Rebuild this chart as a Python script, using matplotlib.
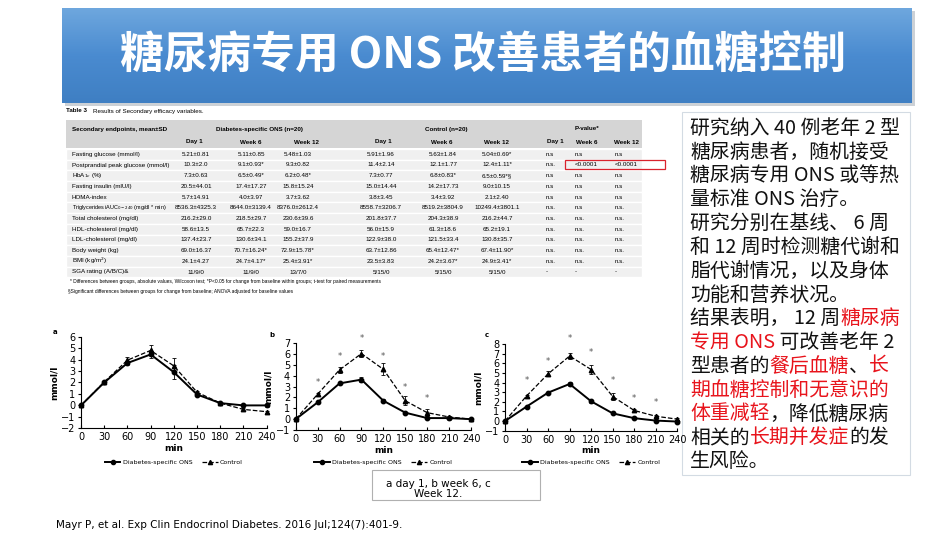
import matplotlib
matplotlib.use("Agg")
import matplotlib.pyplot as plt
from matplotlib.patches import Rectangle
from matplotlib.lines import Line2D
from matplotlib.colors import LinearSegmentedColormap
import numpy as np

CJK = ['Noto Sans CJK SC', 'DejaVu Sans']
NARROW = ['Liberation Sans', 'DejaVu Sans']
RED = '#e8141c'
K = '#111111'

# ---- data ----
title = "糖尿病专用 ONS 改善患者的血糖控制"

minutes = [0, 30, 60, 90, 120, 150, 180, 210, 240]

a_ons = [0, 2.0, 3.7, 4.45, 2.9, 0.95, 0.2, 0.0, 0.0]
a_ons_err = [0, 0.1, 0.2, 0.3, 0.6, 0.15, 0.1, 0.15, 0.15]
a_ctl = [0, 2.05, 3.95, 4.8, 3.45, 1.15, 0.2, -0.35, -0.55]
a_ctl_err = [0, 0.1, 0.25, 0.45, 0.65, 0.15, 0.1, 0.1, 0.1]

b_ons = [0, 1.55, 3.3, 3.65, 1.7, 0.6, 0.1, 0.1, 0.0]
b_ons_err = [0, 0.1, 0.1, 0.25, 0.15, 0.1, 0.1, 0.1, 0.1]
b_ctl = [0, 2.3, 4.55, 6.05, 4.6, 1.7, 0.6, 0.2, 0.0]
b_ctl_err = [0, 0.15, 0.3, 0.3, 0.55, 0.4, 0.35, 0.1, 0.1]
b_star_x = [30, 60, 90, 120, 150, 180]
b_star_y = [3.35, 5.8, 7.45, 5.8, 2.9, 1.9]

c_ons = [0, 1.5, 2.95, 3.85, 2.05, 0.8, 0.3, 0.05, -0.05]
c_ons_err = [0, 0.1, 0.1, 0.25, 0.15, 0.1, 0.1, 0.1, 0.1]
c_ctl = [0, 2.6, 4.9, 6.75, 5.35, 2.55, 1.1, 0.5, 0.2]
c_ctl_err = [0, 0.15, 0.25, 0.35, 0.45, 0.35, 0.2, 0.1, 0.1]
c_star_x = [30, 60, 90, 120, 150, 180, 210]
c_star_y = [4.2, 6.2, 8.6, 7.15, 4.2, 2.3, 1.9]

row_labels = ["Fasting glucose (mmol/l)", "Postprandial peak glucose (mmol/l)",
              "HbA$_{1c}$ (%)", "Fasting insulin (mlU/l)", "HOMA-index",
              "Triglycerides iAUC$_{0-240}$ (mg/dl * min)", "Total cholesterol (mg/dl)",
              "HDL-cholesterol (mg/dl)", "LDL-cholesterol (mg/dl)", "Body weight (kg)",
              "BMI (kg/m$^2$)", "SGA rating (A/B/C)&"]
ons_day1 = ["5.21±0.81", "10.3±2.0", "7.3±0.63", "20.5±44.01", "5.7±14.91", "8536.3±4325.3",
            "216.2±29.0", "58.6±13.5", "137.4±23.7", "69.0±16.37", "24.1±4.27", "11/9/0"]
ons_wk6 = ["5.11±0.85", "9.1±0.93*", "6.5±0.49*", "17.4±17.27", "4.0±3.97", "8644.0±3139.4",
           "218.5±29.7", "65.7±22.3", "130.6±34.1", "70.7±16.24*", "24.7±4.17*", "11/9/0"]
ons_wk12 = ["5.48±1.03", "9.3±0.82", "6.2±0.48*", "15.8±15.24", "3.7±3.62", "8376.0±2612.4",
            "230.6±39.6", "59.0±16.7", "155.2±37.9", "72.9±15.78*", "25.4±3.91*", "13/7/0"]
ctl_day1 = ["5.91±1.96", "11.4±2.14", "7.3±0.77", "15.0±14.44", "3.8±3.45", "8558.7±3206.7",
            "201.8±37.7", "56.0±15.9", "122.9±38.0", "63.7±12.86", "23.5±3.83", "5/15/0"]
ctl_wk6 = ["5.63±1.84", "12.1±1.77", "6.8±0.83*", "14.2±17.73", "3.4±3.92", "8519.2±3804.9",
           "204.3±38.9", "61.3±18.6", "121.5±33.4", "65.4±12.47*", "24.2±3.67*", "5/15/0"]
ctl_wk12 = ["5.04±0.69*", "12.4±1.11*", "6.5±0.59*§", "9.0±10.15", "2.1±2.40", "10249.4±3801.1",
            "216.2±44.7", "65.2±19.1", "130.8±35.7", "67.4±11.90*", "24.9±3.41*", "5/15/0"]
p_day1 = ["n.s", "n.s.", "n.s", "n.s", "n.s", "n.s.", "n.s.", "n.s.", "n.s.", "n.s.", "n.s.", "-"]
p_wk6 = ["n.s", "<0.0001", "n.s", "n.s", "n.s", "n.s", "n.s.", "n.s.", "n.s.", "n.s.", "n.s.", "-"]
p_wk12 = ["n.s", "<0.0001", "n.s", "n.s", "n.s", "n.s.", "n.s.", "n.s.", "n.s.", "n.s.", "n.s.", "-"]
sub_headers = ["Day 1", "Week 6", "Week 12"]
footnotes = ["* Differences between groups, absolute values, Wilcoxon test; *P<0.05 for change from "
             "baseline within groups; t-test for paired measurements",
             "§Significant differences between groups for change from baseline; ANOVA adjusted "
             "for baseline values"]

body_lines = [
    [("研究纳入 40 例老年 2 型", K)],
    [("糖尿病患者，随机接受", K)],
    [("糖尿病专用 ONS 或等热", K)],
    [("量标准 ONS 治疗。", K)],
    [("研究分别在基线、 6 周", K)],
    [("和 12 周时检测糖代谢和", K)],
    [("脂代谢情况，以及身体", K)],
    [("功能和营养状况。", K)],
    [("结果表明， 12 周", K), ("糖尿病", RED)],
    [("专用 ONS", RED), (" 可改善老年 2", K)],
    [("型患者的", K), ("餐后血糖", RED), ("、", K), ("长", RED)],
    [("期血糖控制和无意识的", RED)],
    [("体重减轻", RED), ("，降低糖尿病", K)],
    [("相关的", K), ("长期并发症", RED), ("的发", K)],
    [("生风险。", K)],
]
caption = "a day 1, b week 6, c\nWeek 12."
citation = "Mayr P, et al. Exp Clin Endocrinol Diabetes. 2016 Jul;124(7):401-9."

W, H = 950, 535
fig = plt.figure(figsize=(9.5, 5.35), dpi=100)

# pixel canvas for the slide decoration and table
bg = fig.add_axes([0, 0, 1, 1])
bg.set_xlim(0, W)
bg.set_ylim(H, 0)
bg.axis('off')

# title banner
bg.add_patch(Rectangle((65, 11), 850, 95, color='#9aa4ae', alpha=0.5, lw=0))
cmap = LinearSegmentedColormap.from_list('banner', ['#6ea7de', '#4a8bd0', '#3f7fc3'])
grad = np.linspace(0, 1, 100).reshape(-1, 1)
bg.imshow(grad, cmap=cmap, extent=(62, 912, 103, 8), aspect='auto', zorder=1)
bg.text(483, 56, title, color='white', fontsize=31.5, fontweight='bold', family=CJK,
        ha='center', va='center', zorder=2)

# table
TS = 4.5
bg.text(66, 111, "Table 3", fontsize=TS, fontweight='bold', family=NARROW, va='center')
bg.text(93, 111, "Results of Secondary efficacy variables.", fontsize=TS, family=NARROW, va='center')
bg.add_patch(Rectangle((66, 120), 576, 28, color='#d5d5d5', lw=0))
bg.text(72, 129, "Secondary endpoints, mean±SD", fontsize=TS, fontweight='bold', family=NARROW, va='center')
bg.text(260, 129, "Diabetes-specific ONS (n=20)", fontsize=TS, fontweight='bold', family=NARROW,
        ha='center', va='center')
bg.text(446, 129, "Control (n=20)", fontsize=TS, fontweight='bold', family=NARROW, ha='center', va='center')
bg.text(587, 129, "P-value*", fontsize=TS, fontweight='bold', family=NARROW, ha='center', va='center')
for xs in ([194, 251, 307], [383, 442, 497], [555, 587, 627]):
    for xh, lab in zip(xs, sub_headers):
        bg.text(xh, 142, lab, fontsize=TS, fontweight='bold', family=NARROW, ha='center', va='center')

row_h = 10.7
y0 = 154.3
centered_cols = [(196, ons_day1), (251, ons_wk6), (298, ons_wk12),
                 (381, ctl_day1), (443, ctl_wk6), (497, ctl_wk12)]
left_cols = [(546, p_day1), (575, p_wk6), (615, p_wk12)]
for i, lab in enumerate(row_labels):
    yc = y0 + i * row_h
    bg.add_patch(Rectangle((66, yc - row_h / 2), 576, row_h, facecolor='#f0f0f0',
                           edgecolor='white', lw=1))
    bg.text(72, yc, lab, fontsize=TS if len(lab) < 40 else 4.0, family=NARROW, va='center')
    for xc, col in centered_cols:
        bg.text(xc, yc, col[i], fontsize=TS, family=NARROW, ha='center', va='center')
    for xl, col in left_cols:
        bg.text(xl, yc, col[i], fontsize=TS, family=NARROW, ha='left', va='center')
bg.add_patch(Rectangle((565, 160), 100, 9, fill=False, edgecolor='#d9232d', lw=0.9))
bg.text(70, 281, footnotes[0], fontsize=3.5, family=NARROW, va='center')
bg.text(68, 291.5, footnotes[1], fontsize=3.5, family=NARROW, va='center')

# right-hand text box
bg.add_patch(Rectangle((682, 112), 228, 363, fill=False, edgecolor='#d3dbe3', lw=0.8))
for i, segs in enumerate(body_lines):
    y = 128.3 + i * 23.8
    prev = None
    for txt, col in segs:
        if prev is None:
            prev = bg.text(690, y, txt, color=col, fontsize=14.3, family=CJK, va='center')
        else:
            prev = bg.annotate(txt, xy=(1, 0), xycoords=prev, color=col, fontsize=14.3,
                               family=CJK, va='bottom', ha='left')

# small caption box and citation
bg.add_patch(Rectangle((372, 470), 168, 30, fill=False, edgecolor='#b0b0b0', lw=0.8))
bg.text(438, 489, caption, fontsize=7.5, ha='center', va='center', linespacing=1.0)
bg.text(56, 525, citation, fontsize=7.5, va='center')


def px_axes(left, top, right, bottom):
    return fig.add_axes([left / W, 1 - bottom / H, (right - left) / W, (bottom - top) / H])


def panel(ax, ons, ons_err, ctl, ctl_err, ylo, yhi, star_x=None, star_y=None):
    for y, e, fmt, lw in ((ctl, ctl_err, '--^', 0.9), (ons, ons_err, '-o', 1.4)):
        cont = ax.errorbar(minutes, y, yerr=e, fmt=fmt, color='black', ms=3.2, lw=lw,
                           elinewidth=0.6, capsize=1.5, capthick=0.6)
        for art in cont.get_children():
            art.set_clip_on(False)
    if star_x is not None:
        for sx, sy in zip(star_x, star_y):
            ax.text(sx, sy, '*', fontsize=6, color='#555555', ha='center', va='center', clip_on=False)
    ax.set_xlim(0, 240)
    ax.set_ylim(ylo, yhi)
    ax.set_xticks(minutes)
    ax.set_yticks(range(ylo, yhi + 1))
    ax.set_yticklabels([str(v).replace('-', '−') for v in range(ylo, yhi + 1)])
    ax.spines['top'].set_visible(False)
    ax.spines['right'].set_visible(False)
    ax.tick_params(axis='x', direction='in', length=2.5, width=0.8, labelsize=7, pad=3)
    ax.tick_params(axis='y', direction='out', length=2.5, width=0.8, labelsize=7, pad=1.5)
    ax.set_xlabel('min', fontsize=6.5, fontweight='bold', labelpad=1)
    ax.set_ylabel('mmol/l', fontsize=6.5, fontweight='bold', labelpad=2)
    handles = [Line2D([], [], color='black', marker='o', ms=3, lw=1.4),
               Line2D([], [], color='black', marker='^', ms=3, lw=0.9, ls='--')]
    ax.legend(handles, ['Diabetes-specific ONS', 'Control'], loc='center',
              bbox_to_anchor=(0.5, -0.37), ncol=2, frameon=False, fontsize=4.5,
              handlelength=2.5, columnspacing=1.5, handletextpad=0.4)


ax_a = px_axes(81, 336.7, 266.7, 428.3)
panel(ax_a, a_ons, a_ons_err, a_ctl, a_ctl_err, -2, 6)
ax_b = px_axes(295.7, 343.3, 471, 430)
panel(ax_b, b_ons, b_ons_err, b_ctl, b_ctl_err, -1, 7, b_star_x, b_star_y)
ax_c = px_axes(505, 344, 677.3, 430.7)
panel(ax_c, c_ons, c_ons_err, c_ctl, c_ctl_err, -1, 8, c_star_x, c_star_y)

for lx, ly, letter in ((55, 332, 'a'), (272, 335, 'b'), (487, 335, 'c')):
    bg.text(lx, ly, letter, fontsize=5, fontweight='bold', ha='center', va='center')

fig.savefig('out.png', dpi=100)
